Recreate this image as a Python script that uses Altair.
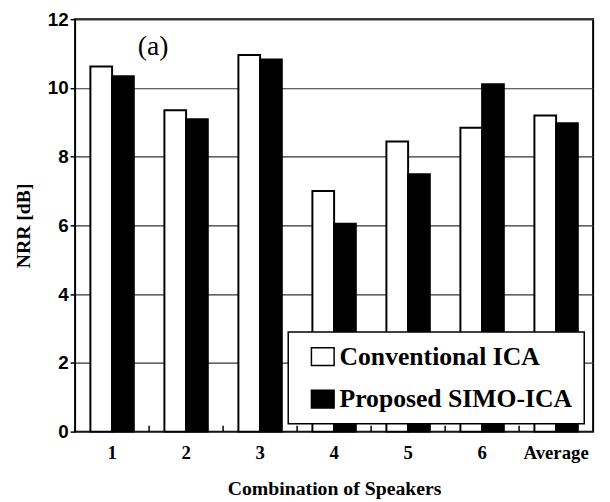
import altair as alt
import pandas as pd

categories = ["1", "2", "3", "4", "5", "6", "Average"]
conventional = [10.62, 9.35, 10.96, 7.00, 8.44, 8.84, 9.20]
proposed = [10.34, 9.09, 10.83, 6.05, 7.49, 10.11, 8.97]
series = ["Conventional ICA", "Proposed SIMO-ICA"]
y_ticks = [0, 2, 4, 6, 8, 10, 12]

rows = []
for c, a, b in zip(categories, conventional, proposed):
    rows.append({"cat": c, "method": series[0], "nrr": a})
    rows.append({"cat": c, "method": series[1], "nrr": b})
df = pd.DataFrame(rows)
cat_df = pd.DataFrame({"cat": categories})
label_df = pd.DataFrame({"t": ["(a)"]})

W, H = 525, 418
SERIF = "Liberation Serif"

x_axis = alt.Axis(
    title="Combination of Speakers", labelAngle=0, ticks=False, domain=False, grid=False,
    labelFont=SERIF, labelFontWeight="bold", labelFontSize=19, labelPadding=12, labelColor="black",
    titleFont=SERIF, titleFontWeight="bold", titleFontSize=20, titlePadding=17, titleColor="black",
)
y_axis = alt.Axis(
    title="NRR [dB]", values=y_ticks, domain=False, grid=True, gridColor="#333333", gridWidth=1.2,
    tickSize=5, tickColor="black", tickWidth=1.5,
    labelFont="Liberation Sans", labelFontWeight="bold", labelFontSize=19, labelPadding=2, labelColor="black",
    titleFont=SERIF, titleFontWeight="bold", titleFontSize=20, titlePadding=14, titleColor="black",
)

bars = alt.Chart(df).mark_bar(stroke="black", strokeWidth=2).encode(
    x=alt.X("cat:N", sort=categories, scale=alt.Scale(paddingInner=0, paddingOuter=0), axis=x_axis),
    xOffset=alt.XOffset("method:N", sort=series, scale=alt.Scale(paddingInner=0, paddingOuter=0.7045)),
    y=alt.Y("nrr:Q", scale=alt.Scale(domain=[0, 12], nice=False), axis=y_axis),
    fill=alt.Fill(
        "method:N", sort=series,
        scale=alt.Scale(domain=series, range=["white", "black"]),
        legend=alt.Legend(
            title=None, orient="none", legendX=216, legendY=317,
            symbolType="M-1,-0.78H1V0.78H-1Z", symbolSize=529,
            symbolStrokeColor="black", symbolStrokeWidth=1.5, symbolOpacity=1,
            labelFont=SERIF, labelFontWeight="bold", labelFontSize=26, labelColor="black",
            labelLimit=0,
            fillColor="white", strokeColor="black", padding=12, rowPadding=17,
            symbolOffset=10, labelOffset=4,
        ),
    ),
)

ticks = alt.Chart(cat_df).mark_rule(color="black", strokeWidth=1.5).encode(
    x=alt.X("cat:N", sort=categories, bandPosition=0, axis=x_axis),
    y=alt.value(H),
    y2=alt.value(H - 6),
)

label = alt.Chart(label_df).mark_text(font=SERIF, fontSize=28, color="black").encode(
    x=alt.value(79), y=alt.value(28), text="t:N"
)

chart = alt.layer(bars, ticks, label).properties(
    width=W, height=H,
    autosize=alt.AutoSizeParams(type="none"),
    padding={"left": 68, "top": 8, "right": 9, "bottom": 68},
).configure_view(stroke="black", strokeWidth=2).configure_legend(strokeWidth=1.5)

chart.save("out.html", embed_options={"renderer": "svg", "actions": False})
